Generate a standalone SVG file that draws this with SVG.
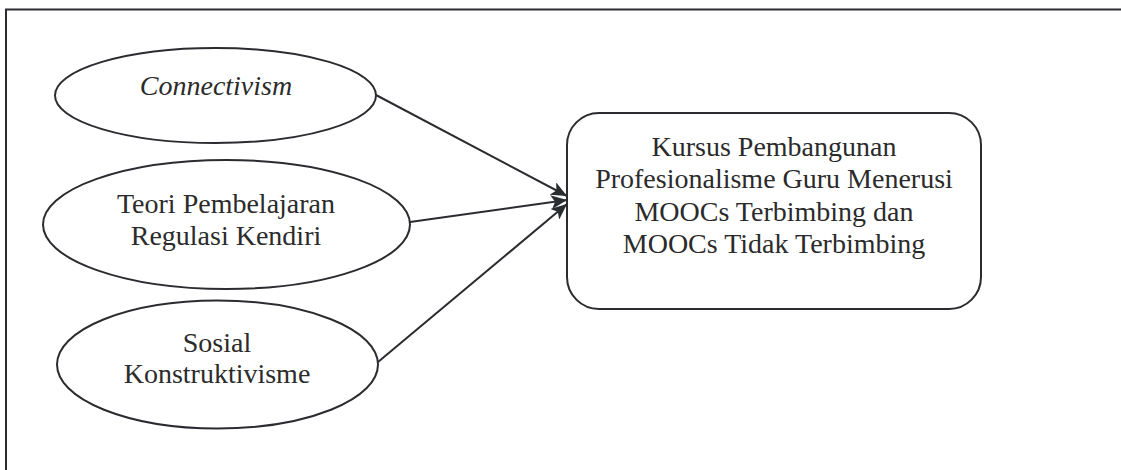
<svg xmlns="http://www.w3.org/2000/svg" width="1121" height="470" viewBox="0 0 1121 470">
<style>
.shape{fill:#fff;stroke:#2b2c30;stroke-width:2}
.frame{fill:none;stroke:#2b2c30;stroke-width:2}
.t{font-family:"Liberation Serif","Times New Roman",serif;font-size:28px;fill:#2b2b2b;text-anchor:middle}
.it{font-style:italic}
.conn{stroke:#2b2c30;stroke-width:2;fill:none;marker-end:url(#arr)}
</style>
<defs>
<marker id="arr" markerUnits="userSpaceOnUse" markerWidth="18" markerHeight="14" refX="16" refY="7" orient="auto">
<path d="M0,0 L16,7 L0,14 L4,7 Z" fill="#2b2c30"/>
</marker>
</defs>
<rect width="1121" height="470" fill="#fff"/>
<rect class="frame" x="6" y="9.5" width="1130" height="480"/>
<g id="connectors">
<line class="conn" x1="376" y1="95" x2="567" y2="196"/>
<line class="conn" x1="410" y1="222" x2="567" y2="200"/>
<line class="conn" x1="378" y1="362" x2="567" y2="204"/>
</g>
<g id="connectivism">
<ellipse class="shape" cx="215.5" cy="95.5" rx="160.5" ry="47.5"/>
<text class="t it" x="216" y="95">Connectivism</text>
</g>
<g id="teori">
<ellipse class="shape" cx="226.5" cy="224.5" rx="183.5" ry="64.5"/>
<text class="t" x="226" y="213">Teori Pembelajaran</text>
<text class="t" x="226" y="244.5">Regulasi Kendiri</text>
</g>
<g id="sosial">
<ellipse class="shape" cx="217.5" cy="364.5" rx="160.5" ry="64"/>
<text class="t" x="217" y="351.5">Sosial</text>
<text class="t" x="217" y="383">Konstruktivisme</text>
</g>
<g id="kursus">
<rect class="shape" x="567" y="113" width="414" height="196" rx="32" ry="32"/>
<text class="t" x="774" y="156">Kursus Pembangunan</text>
<text class="t" x="774" y="188.3">Profesionalisme Guru Menerusi</text>
<text class="t" x="774" y="220.6">MOOCs Terbimbing dan</text>
<text class="t" x="774" y="252.8">MOOCs Tidak Terbimbing</text>
</g>
</svg>
